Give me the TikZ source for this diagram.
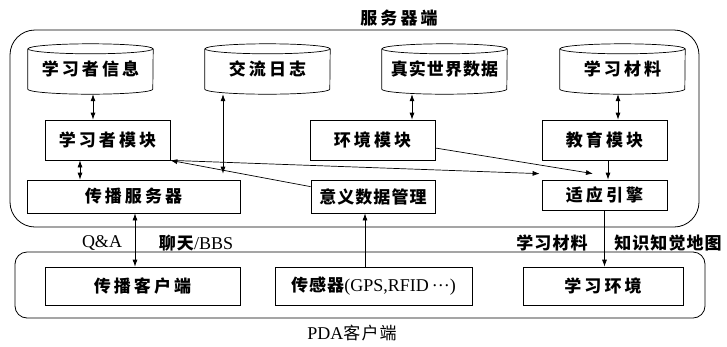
\documentclass[tikz,border=0pt]{standalone}
\usepackage{fontspec}
\setmainfont{Liberation Serif}
\newfontfamily\cjk[LetterSpace=18]{Noto Sans CJK SC}
\newfontfamily\cjks[LetterSpace=6]{Noto Sans CJK SC}
\usetikzlibrary{arrows.meta}
\begin{document}
\begin{tikzpicture}[x=1pt,y=-1pt,
  cn/.style={font={\cjk\bfseries\fontsize{17}{19}\selectfont}},
  cs/.style={font={\cjks\bfseries\fontsize{17}{19}\selectfont}},
  lt/.style={font={\rmfamily\fontsize{18}{20}\selectfont}},
  bx/.style={cn, draw, line width=0.7pt, inner sep=0pt, minimum width=#1},
  row2/.style={bx=#1, minimum height=40pt},
  row3/.style={bx=#1, minimum height=33pt},
  row4/.style={bx=#1, minimum height=38pt},
  cyl/.style={cn, inner sep=0pt, minimum width=125pt, minimum height=50pt},
  frame/.style={draw, line width=0.8pt, inner sep=0pt},
  tip/.tip={Latex[length=7pt,width=5pt]},
  ar/.style={line width=0.7pt, -tip},
  dar/.style={line width=0.7pt, tip-tip}]
\useasboundingbox (0,0) rectangle (727,346);

% frames
\node[frame, rounded corners=25pt, minimum width=689pt, minimum height=197pt] (server) at (354.5,128.5) {};
\node[frame, rounded corners=12pt, minimum width=690pt, minimum height=66pt] (client) at (360,285) {};
\node[cn] (stitle) at (399,18) {服务器端};
\node[lt] (ctitle) at (352,333) {PDA{\cjks\fontsize{17}{19}\selectfont 客户端}};

% cylinders
\node[cyl] (c1) at (90.5,69) {\raisebox{-3pt}{学习者信息}};
\node[cyl] (c2) at (267.5,69) {\raisebox{-3pt}{交流日志}};
\node[cyl, cs] (c3) at (444.5,69) {\raisebox{-3pt}{真实世界数据}};
\node[cyl] (c4) at (622.5,69) {\raisebox{-3pt}{学习材料}};
\foreach \n in {c1,c2,c3,c4}{
  \draw[line width=0.7pt] ([yshift=-5pt]\n.north) ellipse [x radius=62.5pt, y radius=5pt];
  \draw[line width=0.7pt] ([yshift=-5pt]\n.north west) -- ([yshift=5pt]\n.south west)
     arc[start angle=180, end angle=360, x radius=62.5pt, y radius=5pt]
     -- ([yshift=-5pt]\n.north east);
}

% module row
\node[row2=125pt] (m1) at (107.5,140) {学习者模块};
\node[row2=125pt] (m2) at (372.5,140) {环境模块};
\node[row2=125pt] (m3) at (604.5,140) {教育模块};

% server row
\node[row3=213pt] (s1) at (133.5,196.5) {传播服务器};
\node[row3=124pt, cs] (s2) at (373,196.5) {意义数据管理};
\node[row3=125pt, minimum height=30pt] (s3) at (604.5,195) {适应引擎};

% client row
\node[row4=195pt] (p1) at (142.5,286) {传播客户端};
\node[row4=197pt, cs] (p2) at (373.5,286) {传感器\rmfamily\mdseries\fontsize{18}{20}\selectfont(GPS,RFID\,\raisebox{0.25em}{…})};
\node[row4=160pt] (p3) at (603,286) {学习环境};

% labels
\node[lt] (qa) at (102,243) {Q\&A};
\node[cs] (chat) at (196,243) {聊天\rmfamily\mdseries\fontsize{18}{20}\selectfont /BBS};
\node[cs] (mat) at (552,243) {学习材料};
\node[cs] (map) at (668,243) {知识知觉地图};

% connectors
\draw[dar] ([xshift=2.5pt]c1.south) -- ([xshift=2.5pt]c1.south |- m1.north);
\draw[dar, shorten >=6pt] ([xshift=-44.5pt]c2.south) -- ([xshift=-44.5pt]c2.south |- s1.north);
\draw[dar] ([xshift=-32.5pt]c3.south) -- ([xshift=-32.5pt]c3.south |- m2.north);
\draw[dar] ([xshift=-4.5pt]c4.south) -- ([xshift=-4.5pt]c4.south |- m3.north);
\draw[dar] ([xshift=-27.5pt]m1.south) -- ([xshift=-27.5pt]m1.south |- s1.north);
\draw[ar] ([yshift=-7pt]s2.north west) -- (m1.south east);
\draw[ar] (m1.south east) -- ([xshift=-2pt,yshift=6pt]s3.north west);
\draw[ar] ([yshift=-8pt]m2.east) -- ([xshift=-11.5pt,yshift=6pt]s3.north);
\draw[ar] ([xshift=3.5pt]m3.south) -- ([xshift=3.5pt]s3.north);
\draw[ar] (s3.south) -- (s3.south |- p3.north);
\draw[ar] ([xshift=-8.5pt]p2.north) -- ([xshift=-8.5pt]p2.north |- s2.south);
\draw[dar] ([xshift=1.5pt]s1.south) -- ([xshift=1.5pt]s1.south |- p1.north);
\end{tikzpicture}
\end{document}
